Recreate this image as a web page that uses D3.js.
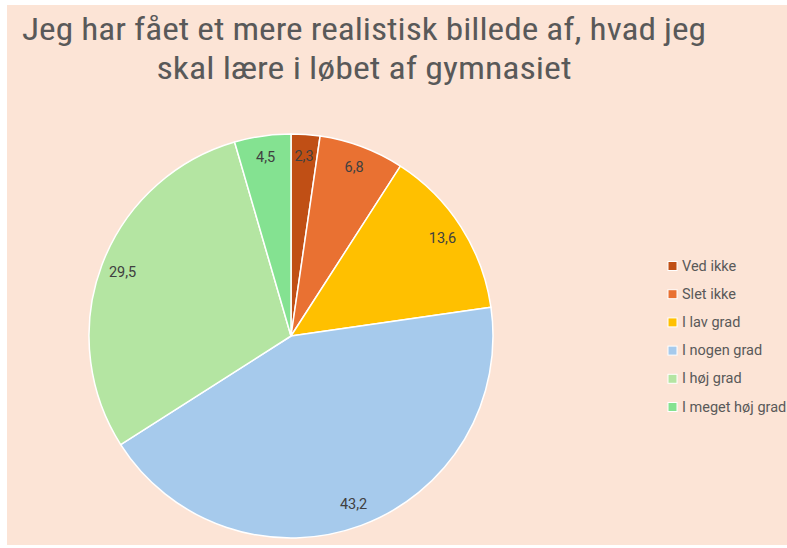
<!DOCTYPE html>
<html>
<head>
<meta charset="utf-8">
<script src="https://cdn.jsdelivr.net/npm/d3@7"></script>
<style>
  html, body { margin: 0; padding: 0; background: #ffffff; }
  svg { display: block; }
</style>
</head>
<body>
<svg id="chart" width="787" height="548"></svg>
<script>
// Survey answers: share of respondents (%) per answer category
const categories = ["Ved ikke", "Slet ikke", "I lav grad", "I nogen grad", "I høj grad", "I meget høj grad"];
const values = [2.3, 6.8, 13.6, 43.2, 29.5, 4.5];
const colors = ["#C04F15", "#E97132", "#FFC000", "#A6CAEC", "#B4E5A2", "#84E291"];
const titleLines = ["Jeg har fået et mere realistisk billede af, hvad jeg", "skal lære i løbet af gymnasiet"];

const fmt = v => d3.format(".1f")(v).replace(".", ",");
const titleFont = "'Roboto Condensed', 'Liberation Sans Narrow', Roboto, sans-serif";
const bodyFont = "Roboto, 'Liberation Sans', 'DejaVu Sans', sans-serif";

const svg = d3.select("#chart");

// chart area background
svg.append("rect")
  .attr("x", 7).attr("y", 5)
  .attr("width", 780).attr("height", 540)
  .attr("fill", "#FCE4D6");

// title
const titleWidths = [684, 415];
svg.append("g").selectAll("text")
  .data(titleLines)
  .join("text")
  .attr("x", 364)
  .attr("y", (d, i) => 40 + i * 39)
  .attr("text-anchor", "middle")
  .attr("font-family", titleFont)
  .attr("font-size", 31)
  .attr("fill", "#595959")
  .attr("textLength", (d, i) => titleWidths[i])
  .attr("lengthAdjust", "spacingAndGlyphs")
  .text(d => d);

// pie
const cx = 291, cy = 336, r = 202;
const pie = d3.pie().value(d => d.value).sort(null);
const arcs = pie(categories.map((c, i) => ({ name: c, value: values[i], color: colors[i] })));
const arc = d3.arc().innerRadius(0).outerRadius(r);
const labelArc = d3.arc().innerRadius(180).outerRadius(180);

const g = svg.append("g").attr("transform", `translate(${cx},${cy})`);
g.selectAll("path")
  .data(arcs)
  .join("path")
  .attr("d", arc)
  .attr("fill", d => d.data.color)
  .attr("stroke", "#ffffff")
  .attr("stroke-width", 1.5)
  .attr("stroke-linejoin", "round");

g.selectAll("text")
  .data(arcs)
  .join("text")
  .attr("transform", d => `translate(${labelArc.centroid(d)})`)
  .attr("text-anchor", "middle")
  .attr("dominant-baseline", "central")
  .attr("font-family", bodyFont)
  .attr("font-size", 14.5)
  .attr("fill", "#404040")
  .text(d => fmt(d.data.value));

// legend
const legend = svg.append("g").attr("transform", "translate(668,266)");
const rows = legend.selectAll("g")
  .data(categories)
  .join("g")
  .attr("transform", (d, i) => `translate(0,${i * 28.2})`);
rows.append("rect")
  .attr("x", 0).attr("y", -4.5)
  .attr("width", 9).attr("height", 9)
  .attr("fill", (d, i) => colors[i])
  .attr("stroke", "#ffffff")
  .attr("stroke-width", 1);
rows.append("text")
  .attr("x", 14)
  .attr("y", 0)
  .attr("dominant-baseline", "central")
  .attr("font-family", bodyFont)
  .attr("font-size", 14.5)
  .attr("fill", "#595959")
  .text(d => d);
</script>
</body>
</html>
